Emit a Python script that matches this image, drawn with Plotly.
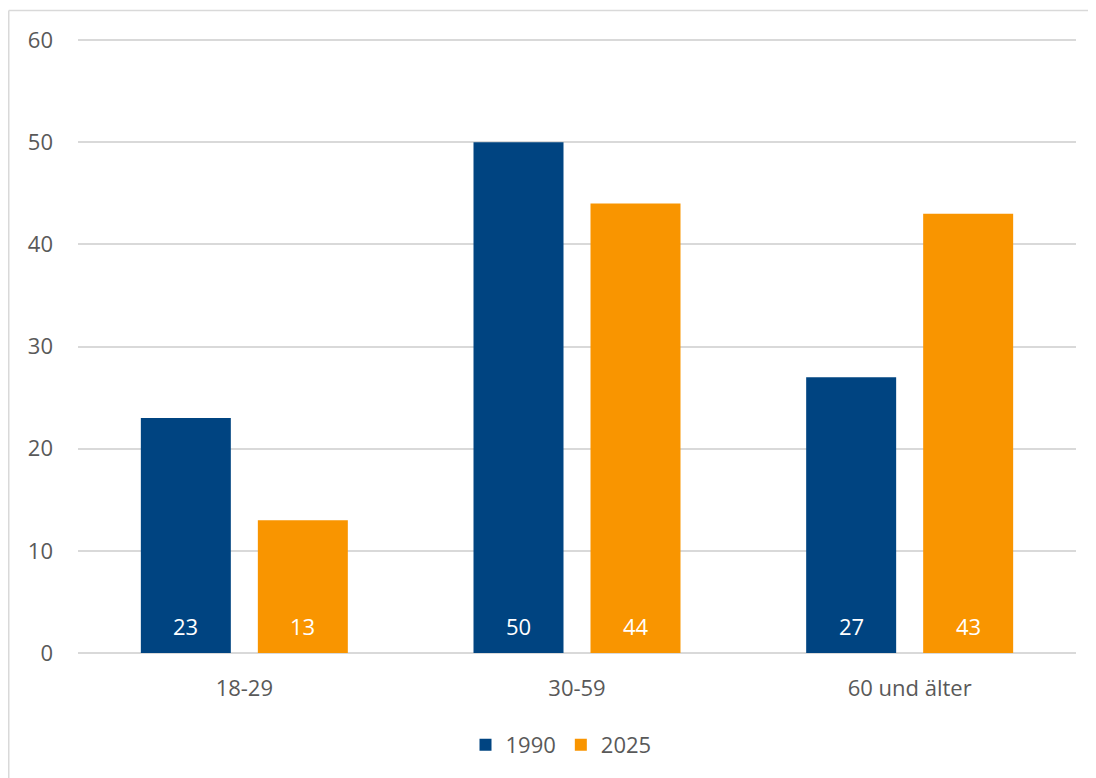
import plotly.graph_objects as go

categories = ["18-29", "30-59", "60 und älter"]
series_names = ["1990", "2025"]
values_1990 = [23, 50, 27]
values_2025 = [13, 44, 43]
colors = ["#004481", "#F99500"]
y_ticks = [0, 10, 20, 30, 40, 50, 60]

FONT = "Open Sans, sans-serif"
FS = 22
GREY = "#595959"

# figure sits at (8, 8) in the page because of body margin
W, H = 1088, 770
plot_left, plot_right = 70, 1068
y0_px, y60_px = 645, 32
y_top = 60.5
ph = (y0_px - y60_px) * y_top / 60
mt = y0_px - ph
ml, mr, mb = plot_left, W - plot_right, H - y0_px
pw = plot_right - plot_left

fig = go.Figure()
for name, vals, col in zip(series_names, [values_1990, values_2025], colors):
    fig.add_trace(go.Bar(
        x=categories, y=vals, name=name, marker=dict(color=col, line=dict(width=0)),
    ))

bar_off = 58.5
for vals, shift in zip([values_1990, values_2025], [-bar_off, bar_off]):
    for c, v in zip(categories, vals):
        fig.add_annotation(x=c, y=0, xref="x", yref="y", text=str(v), showarrow=False,
                           xshift=shift, yshift=27, yanchor="middle",
                           font=dict(color="white", size=FS, family=FONT))

fig.update_layout(
    width=W, height=H,
    margin=dict(l=ml, r=mr, t=mt, b=mb, pad=0),
    paper_bgcolor="white", plot_bgcolor="white",
    barmode="group", bargap=0.2966, bargroupgap=0.2308,
    font=dict(family=FONT, size=FS, color=GREY),
    xaxis=dict(showgrid=False, showline=False, ticks="", tickfont=dict(size=FS, color=GREY),
               ticklabelstandoff=20),
    yaxis=dict(range=[0, y_top], tickvals=y_ticks, showgrid=True, gridcolor="#D9D9D9", gridwidth=1.5,
               zeroline=True, zerolinecolor="#D9D9D9", zerolinewidth=1.5,
               ticks="", tickfont=dict(size=FS, color=GREY), ticklabelstandoff=24),
    legend=dict(orientation="h", x=(561 - 8 - ml) / pw, xanchor="center",
                y=-(745 - 8 - y0_px) / ph, yanchor="middle",
                font=dict(size=FS, color=GREY), traceorder="normal"),
    showlegend=True,
)
# chart-area border: only top and left edges fall inside the window
bx0 = (0.75 - ml) / pw
bx1 = (W + 40 - ml) / pw
by0 = -(H + 40 - y0_px) / ph
by1 = (y0_px - 2.5) / ph
border = dict(color="#D9D9D9", width=1.5)
fig.add_shape(type="line", xref="paper", yref="paper", x0=bx0, x1=bx1, y0=by1, y1=by1, line=border, layer="below")
fig.add_shape(type="line", xref="paper", yref="paper", x0=bx0, x1=bx0, y0=by0, y1=by1, line=border, layer="below")
fig.write_html("out.html")
